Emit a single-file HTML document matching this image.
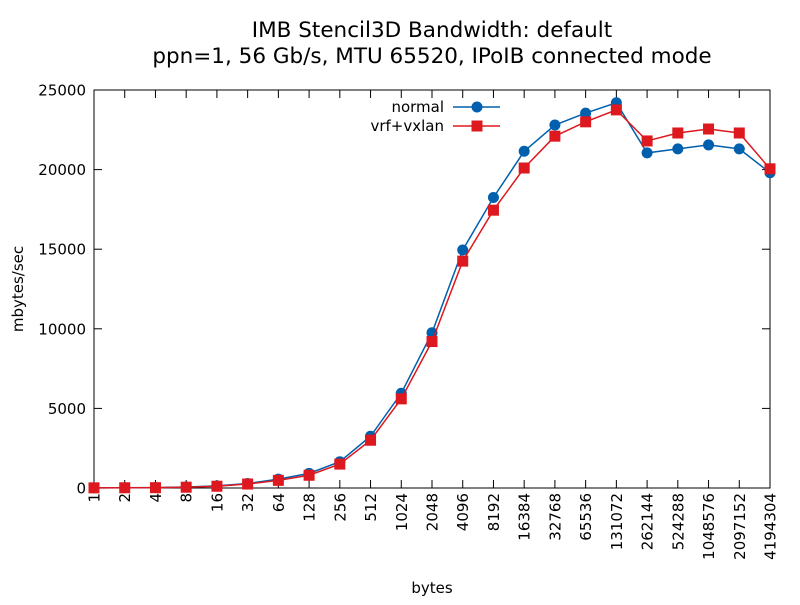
<!DOCTYPE html>
<html><head><meta charset="utf-8"><style>
body{margin:0;background:#fff;}
svg text{font-family:"DejaVu Sans","Liberation Sans",sans-serif;fill:#000;}
</style></head><body>
<svg id="chart" width="800" height="600" xmlns="http://www.w3.org/2000/svg">
<text x="432" y="37" font-size="21.5" text-anchor="middle">IMB Stencil3D Bandwidth: default</text>
<text x="432" y="63" font-size="21.5" text-anchor="middle">ppn=1, 56 Gb/s, MTU 65520, IPoIB connected mode</text>
<text x="23" y="289" font-size="15" text-anchor="middle" transform="rotate(-90 23 289)">mbytes/sec</text>
<text x="432" y="593" font-size="15" text-anchor="middle">bytes</text>
<g id="axes"></g>
<g id="series"></g>
<g id="legend"></g>
</svg>
<script>
const categories=["1","2","4","8","16","32","64","128","256","512","1024","2048","4096","8192","16384","32768","65536","131072","262144","524288","1048576","2097152","4194304"];
const normalValues=[10,15,25,60,130,280,560,920,1650,3250,5950,9750,14950,18250,21150,22800,23550,24200,21050,21300,21550,21300,19800];
const vrfValues=[10,15,20,50,110,250,480,800,1500,3000,5600,9200,14250,17450,20100,22100,23000,23750,21800,22300,22550,22300,20050];
const yTicks=[0,5000,10000,15000,20000,25000];
const NS="http://www.w3.org/2000/svg";
const L=94,R=770,T=90,B=488,YMAX=25000;
const xs=i=>L+i*(R-L)/(categories.length-1);
const ys=v=>B-v/YMAX*(B-T);
function mk(tag,attrs,parent){const e=document.createElementNS(NS,tag);for(const k in attrs)e.setAttribute(k,attrs[k]);parent.appendChild(e);return e;}
const axes=document.getElementById('axes');
const frame=mk('rect',{x:L,y:T,width:R-L,height:B-T,fill:'none',stroke:'#000','stroke-width':1},axes);


yTicks.forEach(v=>{
  const y=ys(v);
  mk('line',{x1:L,y1:y,x2:L+8,y2:y,stroke:'#000'},axes);
  mk('line',{x1:R,y1:y,x2:R-8,y2:y,stroke:'#000'},axes);
  const t=mk('text',{x:L-8,y:y+5.5,'font-size':15,'text-anchor':'end'},axes);
  t.textContent=v;
  
  
});
categories.forEach((c,i)=>{
  const x=xs(i);
  mk('line',{x1:x,y1:B,x2:x,y2:B-8,stroke:'#000'},axes);
  mk('line',{x1:x,y1:T,x2:x,y2:T+8,stroke:'#000'},axes);
  const t=mk('text',{x:x+5.5,y:B+5,'font-size':15,'text-anchor':'end',transform:`rotate(-90 ${x+5.5} ${B+5})`},axes);
  t.textContent=c;
  
  
});
const series=document.getElementById('series');
function drawSeries(vals,color,shape,name){
  const g=mk('g',{},series);
  
  
  const pl=mk('polyline',{points:vals.map((v,i)=>xs(i)+','+ys(v)).join(' '),fill:'none',stroke:color,'stroke-width':1.5},g);
  
  
  vals.forEach((v,i)=>{
    let m;
    if(shape==='circle')m=mk('circle',{cx:xs(i),cy:ys(v),r:5.5,fill:color},g);
    else m=mk('rect',{x:xs(i)-5.5,y:ys(v)-5.5,width:11,height:11,fill:color},g);
    
    
  });
}
drawSeries(normalValues,'#0060ad','circle','normal-series');
drawSeries(vrfValues,'#dd181f','square','vrf-vxlan-series');
const lg=document.getElementById('legend');
[['normal','#0060ad','circle',107],['vrf+vxlan','#dd181f','square',126]].forEach(([lab,col,sh,y])=>{
  const g=mk('g',{},lg);
  
  
  const t=mk('text',{x:444,y:y+5,'font-size':15,'text-anchor':'end'},g);
  t.textContent=lab;
  mk('line',{x1:453,y1:y,x2:500,y2:y,stroke:col,'stroke-width':1.5},g);
  if(sh==='circle')mk('circle',{cx:477,cy:y,r:5.5,fill:col},g);
  else mk('rect',{x:471.5,y:y-5.5,width:11,height:11,fill:col},g);
});
</script>
</body></html>
